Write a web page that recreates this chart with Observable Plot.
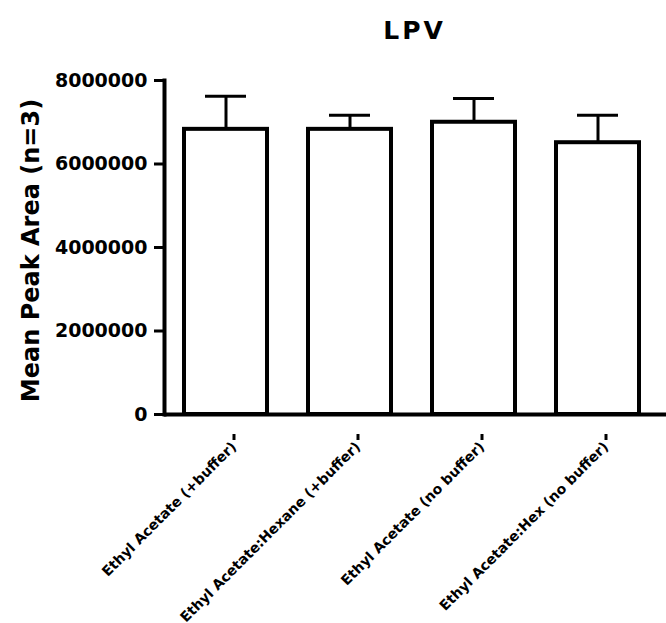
<!DOCTYPE html>
<html>
<head>
<meta charset="utf-8">
<script src="https://cdn.jsdelivr.net/npm/d3@7"></script>
<script src="https://cdn.jsdelivr.net/npm/@observablehq/plot@0.6"></script>
<style>
  html, body { margin: 0; padding: 0; background: #fff; }
  #chart svg { font-family: "DejaVu Sans", Verdana, sans-serif; }
</style>
</head>
<body>
<div id="chart"></div>
<script>
const title = "LPV";
const yLabel = "Mean Peak Area (n=3)";
const categories = [
  "Ethyl Acetate (+buffer)",
  "Ethyl Acetate:Hexane (+buffer)",
  "Ethyl Acetate (no buffer)",
  "Ethyl Acetate:Hex (no buffer)"
];
const means = [6830000, 6830000, 7000000, 6510000];
const errors = [790000, 340000, 570000, 660000];
const yTicks = [0, 2000000, 4000000, 6000000, 8000000];

const data = categories.map((c, i) => ({category: c, mean: means[i], upper: means[i] + errors[i]}));

const plot = Plot.plot({
  width: 666,
  height: 623,
  marginTop: 80,
  marginBottom: 209,
  marginLeft: 164,
  marginRight: 6,
  style: {fontFamily: "DejaVu Sans, Verdana, sans-serif", color: "#000", background: "#fff"},
  x: {domain: categories, paddingInner: 0.33, paddingOuter: 0.165, label: null},
  y: {domain: [0, 8000000], label: null},
  marks: [
    Plot.ruleX(data, {x: "category", y1: "mean", y2: "upper", stroke: "#000", strokeWidth: 3}),
    Plot.tickY(data, {x: "category", y: "upper", stroke: "#000", strokeWidth: 3, insetLeft: 21, insetRight: 21}),
    Plot.barY(data, {x: "category", y: "mean", fill: "#fff", stroke: "#000", strokeWidth: 4}),
    Plot.frame({anchor: "left", stroke: "#000", strokeWidth: 4}),
    Plot.ruleY([0], {stroke: "#000", strokeWidth: 4, insetRight: -6}),
    Plot.axisY({ticks: yTicks, tickFormat: d => String(d), tickSize: 10, tickPadding: 7, strokeWidth: 3,
      fontSize: 19, fontWeight: "bold", label: null}),
    Plot.axisX({tickSize: 6, tickPadding: 4, strokeWidth: 3, tickRotate: -45, fontSize: 14, fontWeight: "bold",
      label: null, dx: 8, dy: 20}),
    Plot.text([yLabel], {frameAnchor: "left", textAnchor: "middle", dx: -133, dy: 3, rotate: -90, fontSize: 24, fontWeight: "bold", fill: "#000"}),
    Plot.text([title], {frameAnchor: "top", dy: -50, fontSize: 25, fontWeight: "bold", fill: "#000", dx: 2, lineAnchor: "middle"})
  ]
});
plot.querySelectorAll("text").forEach(t => {
  if (t.textContent === title) t.setAttribute("letter-spacing", "3");
});
document.getElementById("chart").appendChild(plot);
</script>
</body>
</html>
